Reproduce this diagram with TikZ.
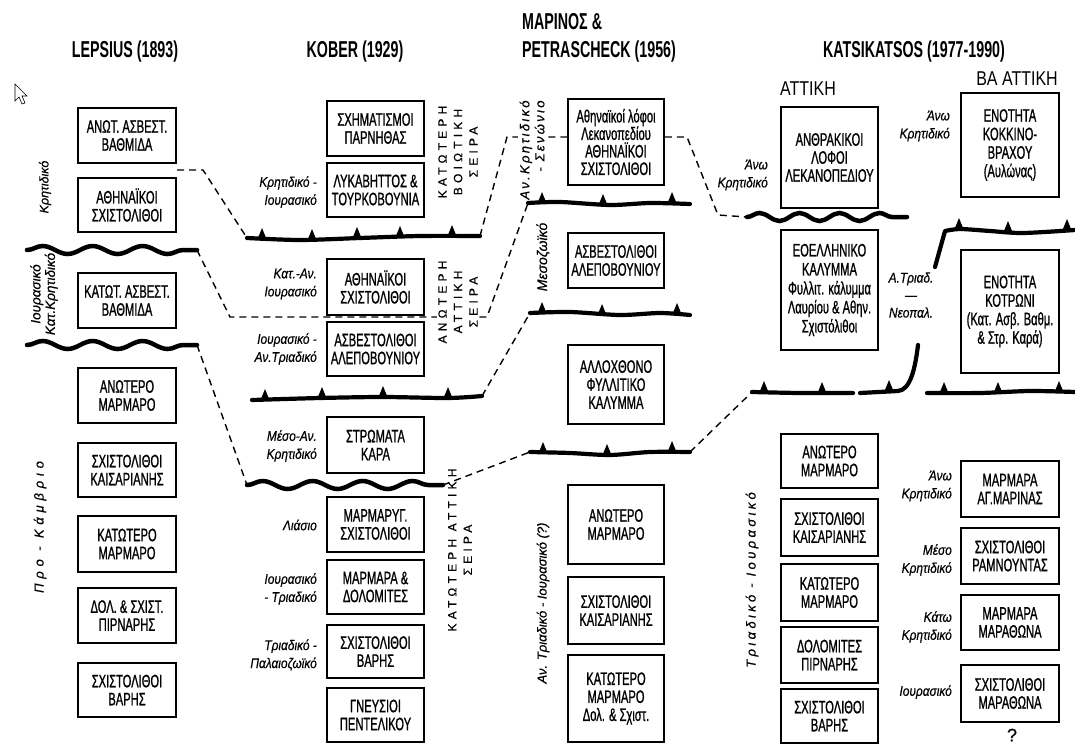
\documentclass[tikz,border=0pt]{standalone}
\usepackage{fontspec}
\setmainfont{Liberation Sans}
\newfontfamily\boxf{Liberation Sans}[FakeStretch=0.62, FakeBold=0.9]
\newfontfamily\titf{Liberation Sans}[FakeStretch=0.62]
\newfontfamily\labf{Liberation Sans}[FakeStretch=0.85, FakeBold=0.5]
\newfontfamily\hdf{Liberation Sans}[FakeStretch=0.8]
\newfontfamily\vsf{Liberation Sans}[LetterSpace=35, FakeBold=0.4]
\newfontfamily\rotf{Liberation Sans}[FakeBold=0.5]
\usetikzlibrary{decorations.pathmorphing}
\pgfdeclarelayer{bg}
\pgfsetlayers{bg,main}
\tikzset{
  box/.style={draw, line width=1.6pt, fill=white, align=center, inner sep=0pt, font=\boxf\fontsize{18}{18}\selectfont},
  lab/.style={anchor=east, align=right, inner sep=0pt, font=\labf\itshape\fontsize{14}{18}\selectfont},
  rlab/.style={rotate=90, align=center, inner sep=0pt, font=\rotf\itshape\fontsize{13}{15}\selectfont\addfontfeature{LetterSpace=#1}},
  rlab/.default=0,
  vcap/.style={rotate=90, align=center, inner sep=0pt, font=\vsf\fontsize{12}{15.5}\selectfont},
  ttl/.style={inner sep=0pt, font=\titf\bfseries\fontsize{23}{28}\selectfont},
  hdr/.style={inner sep=0pt, font=\hdf\fontsize{20}{24}\selectfont},
  dashline/.style={line width=1.4pt, dash pattern=on 7pt off 5pt},
  thrust/.style={line width=4.2pt, line cap=round, line join=round},
  wavy/.style={line width=4.5pt, line cap=round, decorate, decoration={snake, segment length=#1, amplitude=4pt}},
  wavy/.default=50pt,
  tooth/.pic={\fill (-4.5,0) -- (-1.2,-8) -- (0,-11) -- (1.2,-8) -- (4.5,0) -- cycle;},
}
\begin{document}
\begin{tikzpicture}[x=1pt,y=-1pt]
\useasboundingbox (0,0) rectangle (1075,749);
\begin{pgfonlayer}{bg}
\fill[white] (0,0) rectangle (1075,749);
\end{pgfonlayer}

% cursor
\draw[line width=0.6pt, fill=white] (15,84) -- (15,101) -- (19,97) -- (22,104) -- (25,103) -- (22,96) -- (27,96) -- cycle;

% titles
\node[ttl] (tL) at (125,52) {LEPSIUS (1893)};
\node[ttl] (tK) at (355,52) {KOBER (1929)};
\node[ttl, align=left, anchor=west] (tM) at (522,38) {ΜΑΡΙΝΟΣ \&\\PETRASCHECK (1956)};
\node[ttl] (tKa) at (914,52) {KATSIKATSOS (1977-1990)};
\node[hdr] (hA) at (808,89) {ΑΤΤΙΚΗ};
\node[hdr] (hB) at (1017,79) {ΒΑ ΑΤΤΙΚΗ};

% Lepsius
\node[box, minimum width=98pt, minimum height=55pt] (L1) at (127,135.5) {ΑΝΩΤ. ΑΣΒΕΣΤ.\\ΒΑΘΜΙΔΑ};
\node[box, minimum width=98pt, minimum height=54pt] (L2) at (127,205) {ΑΘΗΝΑΪΚΟΙ\\ΣΧΙΣΤΟΛΙΘΟΙ};
\node[box, minimum width=98pt, minimum height=55pt] (L3) at (127,300.5) {ΚΑΤΩΤ. ΑΣΒΕΣΤ.\\ΒΑΘΜΙΔΑ};
\node[box, minimum width=98pt, minimum height=55pt] (L4) at (127,395.5) {ΑΝΩΤΕΡΟ\\ΜΑΡΜΑΡΟ};
\node[box, minimum width=98pt, minimum height=54pt] (L5) at (127,470) {ΣΧΙΣΤΟΛΙΘΟΙ\\ΚΑΙΣΑΡΙΑΝΗΣ};
\node[box, minimum width=98pt, minimum height=56pt] (L6) at (127,544) {ΚΑΤΩΤΕΡΟ\\ΜΑΡΜΑΡΟ};
\node[box, minimum width=98pt, minimum height=55pt] (L7) at (127,615.5) {ΔΟΛ. \& ΣΧΙΣΤ.\\ΠΙΡΝΑΡΗΣ};
\node[box, minimum width=98pt, minimum height=54pt] (L8) at (127,690) {ΣΧΙΣΤΟΛΙΘΟΙ\\ΒΑΡΗΣ};
\node[rlab, font=\rotf\itshape\fontsize{12.5}{15}\selectfont] (rl1) at (45,187) {Κρητιδικό};
\node[rlab, font=\rotf\itshape\fontsize{13.5}{14.5}\selectfont] (rl2) at (44,294) {Ιουρασικό\\Κατ.Κρητιδικό};
\node[rlab=37] (rl3) at (40,527) {Προ - Κάμβριο};

% Kober
\node[box, minimum width=97pt, minimum height=55pt] (K1) at (375.5,128.5) {ΣΧΗΜΑΤΙΣΜΟΙ\\ΠΑΡΝΗΘΑΣ};
\node[box, minimum width=97pt, minimum height=54pt] (K2) at (375.5,190) {ΛΥΚΑΒΗΤΤΟΣ \&\\ΤΟΥΡΚΟΒΟΥΝΙΑ};
\node[box, minimum width=97pt, minimum height=56pt] (K3) at (375.5,287) {ΑΘΗΝΑΪΚΟΙ\\ΣΧΙΣΤΟΛΙΘΟΙ};
\node[box, minimum width=97pt, minimum height=54pt] (K4) at (375.5,349) {ΑΣΒΕΣΤΟΛΙΘΟΙ\\ΑΛΕΠΟΒΟΥΝΙΟΥ};
\node[box, minimum width=97pt, minimum height=56pt] (K5) at (375.5,445) {ΣΤΡΩΜΑΤΑ\\ΚΑΡΑ};
\node[box, minimum width=97pt, minimum height=55pt] (K6) at (375.5,524.5) {ΜΑΡΜΑΡΥΓ.\\ΣΧΙΣΤΟΛΙΘΟΙ};
\node[box, minimum width=97pt, minimum height=54pt] (K7) at (375.5,587) {ΜΑΡΜΑΡΑ \&\\ΔΟΛΟΜΙΤΕΣ};
\node[box, minimum width=97pt, minimum height=53pt] (K8) at (375.5,651.5) {ΣΧΙΣΤΟΛΙΘΟΙ\\ΒΑΡΗΣ};
\node[box, minimum width=97pt, minimum height=54pt] (K9) at (375.5,715) {ΓΝΕΥΣΙΟΙ\\ΠΕΝΤΕΛΙΚΟΥ};
\node[lab] (lk1) at (317,192) {Κρητιδικό -\\Ιουρασικό};
\node[lab] (lk2) at (317,284) {Κατ.-Αν.\\Ιουρασικό};
\node[lab] (lk3) at (317,349) {Ιουρασικό -\\Αν.Τριαδικό};
\node[lab] (lk4) at (317,446) {Μέσο-Αν.\\Κρητιδικό};
\node[lab] (lk5) at (317,525) {Λιάσιο};
\node[lab] (lk6) at (317,589) {Ιουρασικό\\- Τριαδικό};
\node[lab] (lk7) at (317,655) {Τριαδικό -\\Παλαιοζωϊκό};
\node[vcap] (vk1) at (458,152) {ΚΑΤΩΤΕΡΗ\\ΒΟΙΩΤΙΚΗ\\ΣΕΙΡΑ};
\node[vcap, fill=white, inner sep=1pt] (vk2) at (458,302) {ΑΝΩΤΕΡΗ\\ΑΤΤΙΚΗ\\ΣΕΙΡΑ};
\node[vcap] (vk3) at (460,550) {ΚΑΤΩΤΕΡΗ ΑΤΤΙΚΗ\\ΣΕΙΡΑ};

% Marinos & Petrascheck
\node[box, minimum width=96pt, minimum height=86pt, font=\boxf\fontsize{18}{17.5}\selectfont] (M1) at (616,142) {Αθηναϊκοί λόφοι\\Λεκανοπεδίου\\ΑΘΗΝΑΪΚΟΙ\\ΣΧΙΣΤΟΛΙΘΟΙ};
\node[box, minimum width=96pt, minimum height=55pt] (M2) at (616,260.5) {ΑΣΒΕΣΤΟΛΙΘΟΙ\\ΑΛΕΠΟΒΟΥΝΙΟΥ};
\node[box, minimum width=96pt, minimum height=79pt] (M3) at (616,384.5) {ΑΛΛΟΧΘΟΝΟ\\ΦΥΛΛΙΤΙΚΟ\\ΚΑΛΥΜΜΑ};
\node[box, minimum width=96pt, minimum height=79pt] (M4) at (616,524.5) {ΑΝΩΤΕΡΟ\\ΜΑΡΜΑΡΟ};
\node[box, minimum width=96pt, minimum height=67pt] (M5) at (616,610.5) {ΣΧΙΣΤΟΛΙΘΟΙ\\ΚΑΙΣΑΡΙΑΝΗΣ};
\node[box, minimum width=96pt, minimum height=87pt] (M6) at (616,698.5) {ΚΑΤΩΤΕΡΟ\\ΜΑΡΜΑΡΟ\\Δολ. \& Σχιστ.};
\node[rlab=18, align=right, fill=white, inner sep=2pt] (rm1) at (532,150) {Αν.Κρητιδικό\\- Σενώνιο};
\node[rlab, font=\rotf\itshape\fontsize{14}{15}\selectfont] (rm2) at (543,257) {Μεσοζωϊκό};
\node[rlab] (rm3) at (543,603) {Αν. Τριαδικό - Ιουρασικό (?)};

% Katsikatsos - Attiki
\node[box, minimum width=97pt, minimum height=101pt] (A1) at (829.5,157.5) {ΑΝΘΡΑΚΙΚΟΙ\\ΛΟΦΟΙ\\ΛΕΚΑΝΟΠΕΔΙΟΥ};
\node[box, minimum width=97pt, minimum height=120pt, font=\boxf\fontsize{18}{19}\selectfont] (A2) at (829.5,290) {ΕΟΕΛΛΗΝΙΚΟ\\ΚΑΛΥΜΜΑ\\Φυλλιτ. κάλυμμα\\Λαυρίου \& Αθην.\\Σχιστόλιθοι};
\node[box, minimum width=97pt, minimum height=54pt] (A3) at (829.5,461) {ΑΝΩΤΕΡΟ\\ΜΑΡΜΑΡΟ};
\node[box, minimum width=97pt, minimum height=57pt] (A4) at (829.5,527.5) {ΣΧΙΣΤΟΛΙΘΟΙ\\ΚΑΙΣΑΡΙΑΝΗΣ};
\node[box, minimum width=97pt, minimum height=57pt] (A5) at (829.5,592.5) {ΚΑΤΩΤΕΡΟ\\ΜΑΡΜΑΡΟ};
\node[box, minimum width=97pt, minimum height=56pt] (A6) at (829.5,655) {ΔΟΛΟΜΙΤΕΣ\\ΠΙΡΝΑΡΗΣ};
\node[box, minimum width=97pt, minimum height=54pt] (A7) at (829.5,716) {ΣΧΙΣΤΟΛΙΘΟΙ\\ΒΑΡΗΣ};
\node[lab] (la1) at (768,175) {Άνω\\Κρητιδικό};
\node[rlab=26] (ra1) at (752,580) {Τριαδικό - Ιουρασικό};

% Katsikatsos - NE Attiki
\node[box, minimum width=98pt, minimum height=104pt, font=\boxf\fontsize{18}{18.5}\selectfont] (B1) at (1010,145) {ΕΝΟΤΗΤΑ\\ΚΟΚΚΙΝΟ-\\ΒΡΑΧΟΥ\\(Αυλώνας)};
\node[box, minimum width=98pt, minimum height=123pt, font=\boxf\fontsize{18}{18.5}\selectfont] (B2) at (1010,311.5) {ΕΝΟΤΗΤΑ\\ΚΟΤΡΩΝΙ\\(Κατ. Ασβ. Βαθμ.\\\& Στρ. Καρά)};
\node[box, minimum width=98pt, minimum height=56pt] (B3) at (1010,489) {ΜΑΡΜΑΡΑ\\ΑΓ.ΜΑΡΙΝΑΣ};
\node[box, minimum width=98pt, minimum height=56pt] (B4) at (1010,556) {ΣΧΙΣΤΟΛΙΘΟΙ\\ΡΑΜΝΟΥΝΤΑΣ};
\node[box, minimum width=98pt, minimum height=55pt] (B5) at (1010,622.5) {ΜΑΡΜΑΡΑ\\ΜΑΡΑΘΩΝΑ};
\node[box, minimum width=98pt, minimum height=57pt] (B6) at (1010,693.5) {ΣΧΙΣΤΟΛΙΘΟΙ\\ΜΑΡΑΘΩΝΑ};
\node[lab] (lb1) at (950,126) {Άνω\\Κρητιδικό};
\node[lab] (lb2) at (952,486) {Άνω\\Κρητιδικό};
\node[lab] (lb3) at (952,560) {Μέσο\\Κρητιδικό};
\node[lab] (lb4) at (952,627) {Κάτω\\Κρητιδικό};
\node[lab] (lb5) at (952,692) {Ιουρασικό};
\node[lab, anchor=center, align=center, font=\labf\itshape\fontsize{14}{17.5}\selectfont] (lnt) at (911,295) {Α.Τριαδ.\\—\\Νεοπαλ.};
\node[inner sep=0pt, font=\rotf\fontsize{18}{18}\selectfont] (lq) at (1012,735) {?};

% coordinates of line ends
\coordinate (lw1L) at (27,250); \coordinate (lw1R) at (197,250);
\coordinate (lw2L) at (27,345); \coordinate (lw2R) at (197,345);
\coordinate (kt1L) at (247,238); \coordinate (kt1R) at (480,236);
\coordinate (kt2L) at (252,400); \coordinate (kt2R) at (482,396);
\coordinate (kwL) at (247,485);  \coordinate (kwR) at (443,485);
\coordinate (mt1L) at (528,203); \coordinate (mt1R) at (690,204);
\coordinate (mt2L) at (530,313); \coordinate (mt2R) at (690,315);
\coordinate (mt3L) at (530,452); \coordinate (mt3R) at (690,452);
\coordinate (awL) at (747,217);  \coordinate (awR) at (907,217);
\coordinate (at1L) at (752,392); \coordinate (at1R) at (853,393);
\coordinate (at2L) at (860,393); \coordinate (at2R) at (918,345);
\coordinate (at3L) at (935,267); \coordinate (at3R) at (1075,230);
\coordinate (at4L) at (927,393); \coordinate (at4R) at (1075,392);
\coordinate (lc1) at (177,170);
\coordinate (mA) at (507,137);

% unconformities (wavy)
\draw[wavy] (lw1L) -- (lw1R);
\draw[wavy] (lw2L) -- (lw2R);
\draw[wavy] (kwL) -- (kwR);
\draw[wavy=40pt] (awL) -- (awR);

% thrusts
\draw[thrust] plot[smooth] coordinates {(kt1L) (300,240) (360,238) (420,236) (kt1R)};
\foreach \p in {(262,239),(312,240),(357,238),(400,237),(452,236)} \pic at \p {tooth};
\draw[thrust] plot[smooth] coordinates {(kt2L) (320,398) (383,397) (448,398) (kt2R)};
\foreach \p in {(265,400),(322,398),(383,397),(448,398)} \pic at \p {tooth};
\draw[thrust] plot[smooth] coordinates {(mt1L) (560,202) (610,205) (650,203) (mt1R)};
\foreach \p in {(542,203),(603,205),(672,203)} \pic at \p {tooth};
\draw[thrust] plot[smooth] coordinates {(mt2L) (570,312) (620,315) (660,313) (mt2R)};
\foreach \p in {(542,313),(602,315),(677,314)} \pic at \p {tooth};
\draw[thrust] plot[smooth] coordinates {(mt3L) (570,453) (610,455) (650,452) (mt3R)};
\foreach \p in {(543,453),(607,455),(672,452)} \pic at \p {tooth};
\draw[thrust] plot[smooth] coordinates {(at1L) (800,393) (at1R)};
\foreach \p in {(764,392),(822,393)} \pic at \p {tooth};
\draw[thrust] (at2L) -- (898,391) .. controls (910,390) and (915,370) .. (at2R);
\pic at (889,391) {tooth};
\draw[thrust] (at3L) -- plot[smooth] coordinates {(945,231) (960,229) (990,231) (1023,233) (at3R)};
\foreach \p in {(959,229),(1008,232),(1067,230)} \pic at \p {tooth};
\draw[thrust] plot[smooth] coordinates {(at4L) (980,393) (1030,391) (at4R)};
\foreach \p in {(944,393),(998,393),(1059,392)} \pic at \p {tooth};

% dashed correlation lines
\begin{pgfonlayer}{bg}
\draw[dashline] (lc1) -- (203,170) -- (kt1L);
\draw[dashline] (lw1R) -- (230,317) -- (487,317) -- (mt1L);
\draw[dashline] (lw2R) -- (kwL);
\draw[dashline] (kt1R) -- (mA) -- (mA -| M1.west);
\draw[dashline] (mA -| M1.east) -- (687,137) -- (718,215) -- (awL);
\draw[dashline] (kt2R) -- (mt2L);
\draw[dashline] (kwR) -- (mt3L);
\draw[dashline] (mt3R) -- (at1L);
\end{pgfonlayer}
\end{tikzpicture}
\end{document}
